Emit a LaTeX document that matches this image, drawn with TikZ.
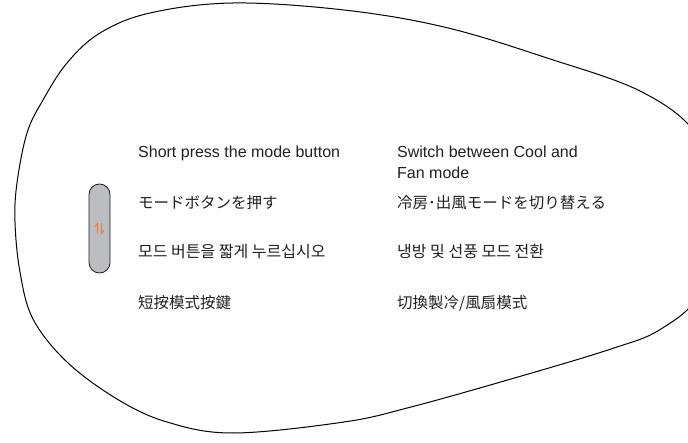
\documentclass[tikz,border=0pt]{standalone}
\usepackage{fontspec}
\setmainfont{Liberation Sans}
\newfontfamily\jpfont{Noto Sans CJK JP}
\newfontfamily\krfont{Noto Sans CJK KR}
\newfontfamily\tcfont{Noto Sans CJK TC}
\definecolor{btngray}{RGB}{188,189,192}
\definecolor{iconorange}{RGB}{240,128,64}
\definecolor{edgegray}{RGB}{35,31,32}
\begin{document}
\begin{tikzpicture}[x=1pt, y=-1pt,
        txt/.style={anchor=base west, inner sep=0pt, text=edgegray,
                    font=\fontsize{16}{21}\selectfont},
        cjk/.style={txt, font=\fontsize{15.5}{19}\selectfont},
        hangul/.style={txt, font=\fontsize{16}{19}\selectfont},
        button/.style={draw=edgegray, fill=btngray, line width=0.8pt,
                       minimum width=21pt, minimum height=89pt,
                       rounded corners=10.5pt, inner sep=0pt},
        icon/.style={draw=iconorange, line width=1.1pt}]
    % Frame of the picture
    \clip (0,0) rectangle (688,443);

    % Outline of the remote
    \draw[black, line width=1pt] plot[smooth cycle, tension=0.6] coordinates {
        (233,3) (344,10) (444,27) (544,57) (644,93) (700,140) (716,215)
        (700,292) (661,329) (611,349) (511,379) (411,407) (344,422)
        (233,433) (167,422) (117,399) (67,362) (33,319) (20,272) (15,222)
        (17,183) (27,133) (43,100) (67,63) (100,33) (150,13)};

    % Mode button with its icon
    \node[button] (btn) at (99.5,228.5) {};
    \draw[icon] (btn.center) ++(-2,5) -- ++(0,-10) -- ++(-2.5,3);
    \draw[icon] (btn.center) ++(2,-5) -- ++(0,10) -- ++(2.5,-3);

    % Left column: what to do
    \node[txt] (doEn) at (138,158) {Short press the mode button};
    \node[cjk] (doJp) at (138,209) {\jpfont モードボタンを押す};
    \node[hangul] (doKr) at (138,258) {\krfont 모드 버튼을 짧게 누르십시오};
    \node[cjk] (doTc) at (138,309) {\tcfont 短按模式按鍵};

    % Right column: what happens
    \node[txt] (swEnA) at (397,158) {Switch between Cool and};
    \node[txt] (swEnB) at (397,179) {Fan mode};
    \node[cjk] (swJp) at (397,209) {\jpfont 冷房･出風モードを切り替える};
    \node[hangul] (swKr) at (397,258) {\krfont 냉방 및 선풍 모드 전환};
    \node[cjk] (swTc) at (397,309) {\tcfont 切換製冷/風扇模式};
\end{tikzpicture}
\end{document}
